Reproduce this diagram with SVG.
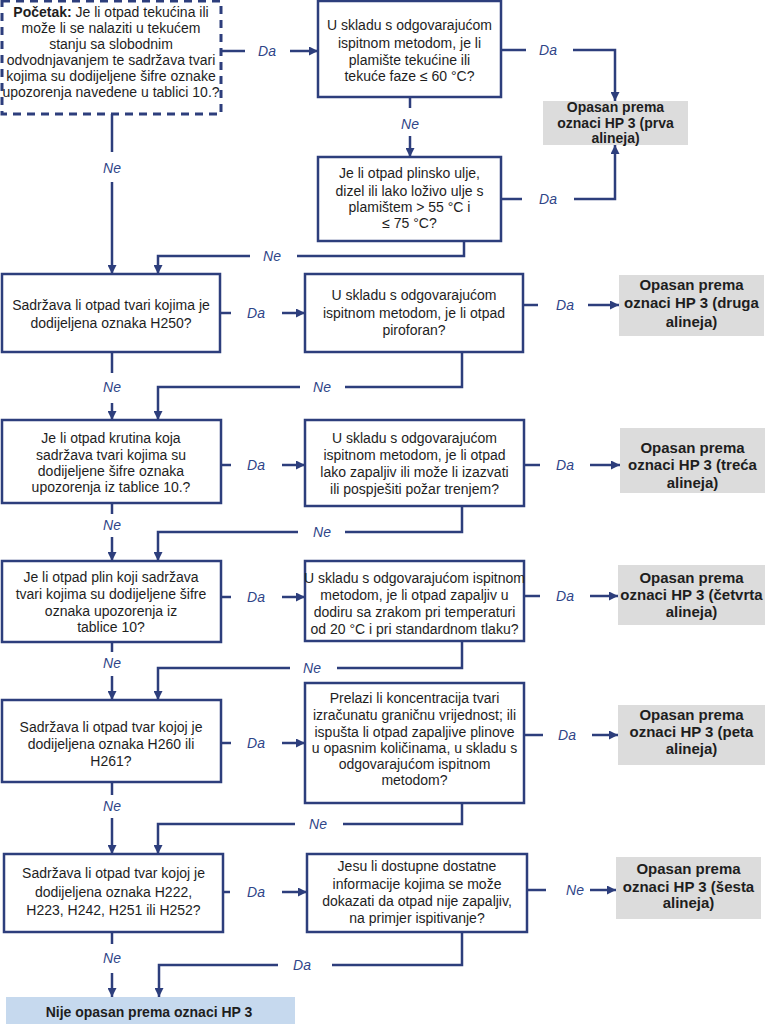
<svg xmlns="http://www.w3.org/2000/svg" width="767" height="1024" viewBox="0 0 767 1024">
<style>
.box{fill:#fff;stroke:#2d3e7c;stroke-width:2.5}
.start{fill:#fff;stroke:#2d3e7c;stroke-width:3;stroke-dasharray:8 6}
.gray{fill:#dcdcdc}
.final{fill:#c6d9ee}
.t{font-family:"Liberation Sans",Arial,sans-serif;font-size:14px;fill:#1e1e1e;text-anchor:middle}
.b{font-weight:bold;font-size:15px}
.b14{font-weight:bold;font-size:14px}
.lbl{font-family:"Liberation Sans",Arial,sans-serif;font-style:italic;font-size:14px;fill:#2f4588;text-anchor:middle}
.c{fill:none;stroke:#2d3e7c;stroke-width:2.5}
.a{marker-end:url(#arr)}
</style>
<defs>
<marker id="arr" viewBox="0 0 10 10" refX="10" refY="5" markerUnits="userSpaceOnUse" markerWidth="9" markerHeight="9" orient="auto">
<path d="M0,0 L10,5 L0,10 z" fill="#2d3e7c"/>
</marker>
</defs>
<rect width="767" height="1024" fill="#fff"/>

<g id="connectors">
<path class="c" d="M221,51 H245"/><path class="c a" d="M290,51 H318"/>
<path class="c" d="M501,50 H526"/><path class="c a" d="M573,50 H615 V101"/>
<path class="c" d="M410,97 V108"/><path class="c a" d="M410,136 V157"/>
<path class="c" d="M501,199 H522"/><path class="c a" d="M574,199 H615 V145"/>
<path class="c" d="M464,241 V256 H297"/><path class="c a" d="M250,256 H158 V274"/>
<path class="c" d="M112,114 V152"/><path class="c a" d="M112,182 V274"/>

<path class="c" d="M221,313 H231"/><path class="c a" d="M282,313 H305"/>
<path class="c" d="M524,305 H538"/><path class="c a" d="M588,305 H619"/>
<path class="c" d="M112,352 V373"/><path class="c a" d="M112,403 V420"/>
<path class="c" d="M462,352 V387 H345"/><path class="c a" d="M300,387 H158 V420"/>

<path class="c" d="M221,465 H231"/><path class="c a" d="M282,465 H305"/>
<path class="c" d="M524,465 H540"/><path class="c a" d="M590,465 H620"/>
<path class="c" d="M112,503 V514"/><path class="c a" d="M112,537 V561"/>
<path class="c" d="M462,506 V532 H345"/><path class="c a" d="M298,532 H158 V561"/>

<path class="c" d="M221,597 H231"/><path class="c a" d="M282,597 H305"/>
<path class="c" d="M524,596 H540"/><path class="c a" d="M590,596 H618"/>
<path class="c" d="M112,642 V652"/><path class="c a" d="M112,676 V700"/>
<path class="c" d="M462,641 V668 H337"/><path class="c a" d="M290,668 H158 V700"/>

<path class="c" d="M221,743 H231"/><path class="c a" d="M282,743 H305"/>
<path class="c" d="M524,735 H543"/><path class="c a" d="M592,735 H618"/>
<path class="c" d="M112,782 V795"/><path class="c a" d="M112,818 V854"/>
<path class="c" d="M462,803 V824 H343"/><path class="c a" d="M295,824 H158 V854"/>

<path class="c" d="M223,892 H230"/><path class="c a" d="M282,892 H307"/>
<path class="c" d="M527,890 H546"/><path class="c a" d="M590,890 H616"/>
<path class="c" d="M112,932 V944"/><path class="c a" d="M112,973 V997"/>
<path class="c" d="M462,932 V965 H332"/><path class="c a" d="M278,965 H159 V997"/>

<text class="lbl" x="267" y="56">Da</text>
<text class="lbl" x="548" y="55">Da</text>
<text class="lbl" x="410" y="129">Ne</text>
<text class="lbl" x="548" y="204">Da</text>
<text class="lbl" x="272" y="261">Ne</text>
<text class="lbl" x="112" y="173">Ne</text>
<text class="lbl" x="256" y="318">Da</text>
<text class="lbl" x="565" y="310">Da</text>
<text class="lbl" x="112" y="392">Ne</text>
<text class="lbl" x="322" y="392">Ne</text>
<text class="lbl" x="256" y="470">Da</text>
<text class="lbl" x="565" y="470">Da</text>
<text class="lbl" x="112" y="530">Ne</text>
<text class="lbl" x="322" y="537">Ne</text>
<text class="lbl" x="256" y="602">Da</text>
<text class="lbl" x="565" y="601">Da</text>
<text class="lbl" x="112" y="668">Ne</text>
<text class="lbl" x="312" y="673">Ne</text>
<text class="lbl" x="256" y="748">Da</text>
<text class="lbl" x="567" y="740">Da</text>
<text class="lbl" x="112" y="811">Ne</text>
<text class="lbl" x="318" y="829">Ne</text>
<text class="lbl" x="256" y="897">Da</text>
<text class="lbl" x="575" y="895">Ne</text>
<text class="lbl" x="112" y="963">Ne</text>
<text class="lbl" x="302" y="970">Da</text>
</g>

<g id="start">
<rect class="start" x="2" y="1" width="219" height="113"/>
<text class="t" x="111" y="17"><tspan font-weight="bold">Početak:</tspan> Je li otpad tekućina ili</text>
<text class="t" x="111" y="33">može li se nalaziti u tekućem</text>
<text class="t" x="111" y="49">stanju sa slobodnim</text>
<text class="t" x="111" y="65">odvodnjavanjem te sadržava tvari</text>
<text class="t" x="111" y="81">kojima su dodijeljene šifre oznake</text>
<text class="t" x="111" y="97">upozorenja navedene u tablici 10.?</text>
</g>

<g id="a1">
<rect class="box" x="318" y="1" width="183" height="96"/>
<text class="t" x="409.5" y="30">U skladu s odgovarajućom</text>
<text class="t" x="409.5" y="48">ispitnom metodom, je li</text>
<text class="t" x="409.5" y="65">plamište tekućine ili</text>
<text class="t" x="409.5" y="81">tekuće faze ≤ 60 °C?</text>
</g>

<g id="a2">
<rect class="box" x="318" y="157" width="183" height="84"/>
<text class="t" x="409.5" y="178">Je li otpad plinsko ulje,</text>
<text class="t" x="409.5" y="196">dizel ili lako loživo ulje s</text>
<text class="t" x="409.5" y="212">plamištem &gt; 55 °C i</text>
<text class="t" x="409.5" y="228">≤ 75 °C?</text>
</g>

<g id="g1">
<rect class="gray" x="543" y="101" width="145" height="44"/>
<text class="t b14" x="615.5" y="112">Opasan prema</text>
<text class="t b14" x="615.5" y="128">oznaci HP 3 (prva</text>
<text class="t b14" x="615.5" y="143">alineja)</text>
</g>

<g id="b1">
<rect class="box" x="2" y="274" width="218" height="78"/>
<text class="t" x="111" y="310">Sadržava li otpad tvari kojima je</text>
<text class="t" x="111" y="328">dodijeljena oznaka H250?</text>
</g>

<g id="b2">
<rect class="box" x="305" y="274" width="218" height="78"/>
<text class="t" x="414" y="300">U skladu s odgovarajućom</text>
<text class="t" x="414" y="318">ispitnom metodom, je li otpad</text>
<text class="t" x="414" y="335">piroforan?</text>
</g>

<g id="g2">
<rect class="gray" x="619" y="275" width="145" height="61"/>
<text class="t b" x="691.5" y="290">Opasan prema</text>
<text class="t b" x="691.5" y="308">oznaci HP 3 (druga</text>
<text class="t b" x="691.5" y="327">alineja)</text>
</g>

<g id="c1">
<rect class="box" x="2" y="420" width="219" height="83"/>
<text class="t" x="111" y="443">Je li otpad krutina koja</text>
<text class="t" x="111" y="460">sadržava tvari kojima su</text>
<text class="t" x="111" y="476">dodijeljene šifre oznaka</text>
<text class="t" x="111" y="492">upozorenja iz tablice 10.?</text>
</g>

<g id="c2">
<rect class="box" x="305" y="420" width="219" height="86"/>
<text class="t" x="414.5" y="443">U skladu s odgovarajućom</text>
<text class="t" x="414.5" y="460">ispitnom metodom, je li otpad</text>
<text class="t" x="414.5" y="477">lako zapaljiv ili može li izazvati</text>
<text class="t" x="414.5" y="494">ili pospješiti požar trenjem?</text>
</g>

<g id="g3">
<rect class="gray" x="620" y="428" width="145" height="65"/>
<text class="t b" x="692.5" y="453">Opasan prema</text>
<text class="t b" x="692.5" y="470">oznaci HP 3 (treća</text>
<text class="t b" x="692.5" y="488">alineja)</text>
</g>

<g id="d1">
<rect class="box" x="2" y="561" width="219" height="81"/>
<text class="t" x="111" y="582">Je li otpad plin koji sadržava</text>
<text class="t" x="111" y="599">tvari kojima su dodijeljene šifre</text>
<text class="t" x="111" y="616">oznaka upozorenja iz</text>
<text class="t" x="111" y="632">tablice 10?</text>
</g>

<g id="d2">
<rect class="box" x="305" y="561" width="219" height="80"/>
<text class="t" x="414.5" y="583">U skladu s odgovarajućom ispitnom</text>
<text class="t" x="414.5" y="600">metodom, je li otpad zapaljiv u</text>
<text class="t" x="414.5" y="617">dodiru sa zrakom pri temperaturi</text>
<text class="t" x="414.5" y="634">od 20 °C i pri standardnom tlaku?</text>
</g>

<g id="g4">
<rect class="gray" x="618" y="565" width="147" height="60"/>
<text class="t b" x="691.5" y="583">Opasan prema</text>
<text class="t b" x="691.5" y="600">oznaci HP 3 (četvrta</text>
<text class="t b" x="691.5" y="617">alineja)</text>
</g>

<g id="e1">
<rect class="box" x="2" y="700" width="219" height="82"/>
<text class="t" x="111" y="732">Sadržava li otpad tvar kojoj je</text>
<text class="t" x="111" y="749">dodijeljena oznaka H260 ili</text>
<text class="t" x="111" y="766">H261?</text>
</g>

<g id="e2">
<rect class="box" x="305" y="683" width="219" height="120"/>
<text class="t" x="414.5" y="703">Prelazi li koncentracija tvari</text>
<text class="t" x="414.5" y="720">izračunatu graničnu vrijednost; ili</text>
<text class="t" x="414.5" y="737">ispušta li otpad zapaljive plinove</text>
<text class="t" x="414.5" y="753">u opasnim količinama, u skladu s</text>
<text class="t" x="414.5" y="769">odgovarajućom ispitnom</text>
<text class="t" x="414.5" y="785">metodom?</text>
</g>

<g id="g5">
<rect class="gray" x="618" y="705" width="147" height="60"/>
<text class="t b" x="691.5" y="720">Opasan prema</text>
<text class="t b" x="691.5" y="737">oznaci HP 3 (peta</text>
<text class="t b" x="691.5" y="754">alineja)</text>
</g>

<g id="f1">
<rect class="box" x="4" y="854" width="219" height="78"/>
<text class="t" x="113.5" y="878">Sadržava li otpad tvar kojoj je</text>
<text class="t" x="113.5" y="897">dodijeljena oznaka H222,</text>
<text class="t" x="113.5" y="915">H223, H242, H251 ili H252?</text>
</g>

<g id="f2">
<rect class="box" x="307" y="854" width="220" height="78"/>
<text class="t" x="417" y="871">Jesu li dostupne dostatne</text>
<text class="t" x="417" y="889">informacije kojima se može</text>
<text class="t" x="417" y="906">dokazati da otpad nije zapaljiv,</text>
<text class="t" x="417" y="923">na primjer ispitivanje?</text>
</g>

<g id="g6">
<rect class="gray" x="616" y="857" width="145" height="62"/>
<text class="t b" x="688.5" y="874">Opasan prema</text>
<text class="t b" x="688.5" y="892">oznaci HP 3 (šesta</text>
<text class="t b" x="688.5" y="908">alineja)</text>
</g>

<g id="final">
<rect class="final" x="6" y="997" width="289" height="28"/>
<text class="t b14" x="149" y="1017">Nije opasan prema oznaci HP 3</text>
</g>
</svg>
